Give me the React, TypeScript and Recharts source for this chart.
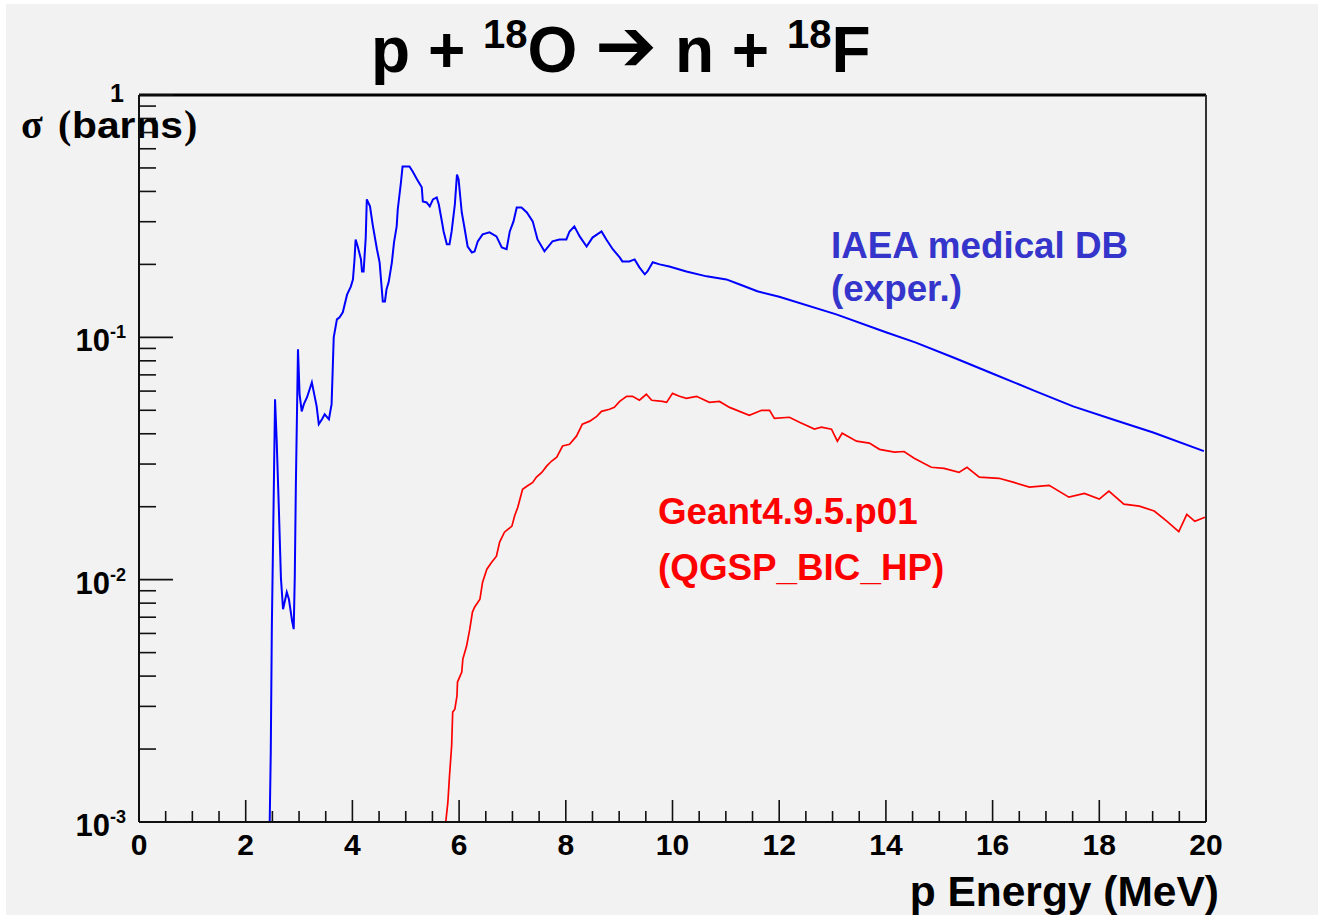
import React from 'react';
import { LineChart, Line, XAxis, YAxis, ReferenceLine } from 'recharts';

const IAEA_ENERGY = [2.45, 2.47, 2.49, 2.53, 2.55, 2.58, 2.62, 2.66, 2.70, 2.77, 2.81, 2.87, 2.90, 2.92, 2.94, 2.98, 3.01, 3.05, 3.09, 3.15, 3.24, 3.33, 3.37, 3.43, 3.48, 3.56, 3.61, 3.63, 3.65, 3.71, 3.76, 3.82, 3.90, 3.97, 4.01, 4.04, 4.06, 4.10, 4.16, 4.18, 4.21, 4.25, 4.27, 4.33, 4.38, 4.46, 4.51, 4.57, 4.61, 4.64, 4.68, 4.74, 4.78, 4.83, 4.85, 4.91, 4.94, 5.02, 5.07, 5.13, 5.21, 5.30, 5.32, 5.39, 5.45, 5.51, 5.58, 5.62, 5.67, 5.71, 5.77, 5.82, 5.86, 5.92, 5.96, 5.99, 6.05, 6.10, 6.16, 6.24, 6.29, 6.35, 6.44, 6.57, 6.70, 6.80, 6.89, 6.95, 7.02, 7.08, 7.17, 7.27, 7.38, 7.47, 7.60, 7.75, 7.88, 8.01, 8.07, 8.16, 8.26, 8.39, 8.50, 8.67, 8.76, 8.88, 9.01, 9.06, 9.19, 9.29, 9.38, 9.48, 9.53, 9.63, 9.76, 9.94, 10.26, 10.64, 11.01, 11.25, 11.59, 12.0, 13.07, 14.0, 14.55, 15.3, 16.03, 16.8, 17.51, 18.3, 19.01, 19.96];
const IAEA_SIGMA = [0.001, 0.00195, 0.00637, 0.0265, 0.0555, 0.038, 0.0201, 0.0102, 0.00755, 0.00888, 0.0083, 0.00675, 0.00625, 0.0103, 0.0243, 0.0893, 0.0582, 0.0495, 0.053, 0.0566, 0.0652, 0.0519, 0.0438, 0.0459, 0.0481, 0.0459, 0.053, 0.0724, 0.1, 0.1186, 0.121, 0.1268, 0.150, 0.162, 0.173, 0.210, 0.2535, 0.237, 0.210, 0.187, 0.187, 0.258, 0.371, 0.347, 0.292, 0.231, 0.204, 0.1406, 0.1406, 0.158, 0.169, 0.204, 0.2465, 0.287, 0.337, 0.4356, 0.507, 0.507, 0.507, 0.4836, 0.449, 0.416, 0.364, 0.3603, 0.347, 0.371, 0.378, 0.353, 0.307, 0.2735, 0.242, 0.242, 0.2735, 0.353, 0.470, 0.449, 0.3275, 0.284, 0.237, 0.224, 0.226, 0.249, 0.266, 0.271, 0.261, 0.235, 0.231, 0.2735, 0.301, 0.3436, 0.3436, 0.3275, 0.301, 0.2535, 0.2265, 0.249, 0.2535, 0.2535, 0.2735, 0.287, 0.261, 0.237, 0.258, 0.2735, 0.2535, 0.231, 0.2138, 0.2058, 0.2058, 0.2097, 0.1944, 0.182, 0.187, 0.204, 0.200, 0.196, 0.187, 0.1785, 0.1734, 0.1656, 0.1549, 0.147, 0.1244, 0.105, 0.0953, 0.082, 0.0704, 0.060, 0.0519, 0.0455, 0.0405, 0.0339];

const G4_ENERGY = [5.75, 5.79, 5.82, 5.86, 5.88, 5.92, 5.96, 5.97, 6.05, 6.07, 6.14, 6.20, 6.25, 6.29, 6.39, 6.44, 6.52, 6.61, 6.70, 6.76, 6.85, 6.99, 7.04, 7.10, 7.19, 7.27, 7.38, 7.45, 7.55, 7.64, 7.73, 7.83, 7.94, 8.07, 8.20, 8.31, 8.45, 8.58, 8.67, 8.82, 8.91, 9.01, 9.14, 9.25, 9.38, 9.51, 9.61, 9.81, 9.89, 10.0, 10.13, 10.26, 10.45, 10.69, 10.88, 11.07, 11.44, 11.67, 11.82, 11.91, 12.19, 12.38, 12.66, 12.79, 12.98, 13.09, 13.18, 13.45, 13.69, 13.88, 14.16, 14.34, 14.53, 14.85, 15.09, 15.37, 15.52, 15.75, 16.12, 16.40, 16.69, 17.06, 17.43, 17.72, 18.0, 18.18, 18.46, 18.75, 19.03, 19.27, 19.49, 19.64, 19.79, 19.98];
const G4_SIGMA = [0.001, 0.00121, 0.00155, 0.00206, 0.00284, 0.00292, 0.00331, 0.00378, 0.00416, 0.0047, 0.00532, 0.00625, 0.00735, 0.0077, 0.0083, 0.00977, 0.01105, 0.0118, 0.0125, 0.0143, 0.0157, 0.01663, 0.0183, 0.0199, 0.0236, 0.0243, 0.0252, 0.0265, 0.0277, 0.0294, 0.0308, 0.032, 0.0356, 0.0362, 0.0391, 0.0438, 0.0451, 0.0472, 0.0495, 0.0505, 0.0514, 0.0544, 0.0571, 0.0571, 0.055, 0.0582, 0.055, 0.0544, 0.0539, 0.0587, 0.0571, 0.056, 0.0571, 0.0539, 0.0544, 0.0514, 0.0477, 0.050, 0.050, 0.0463, 0.0468, 0.0446, 0.0418, 0.0426, 0.0418, 0.0373, 0.0402, 0.0373, 0.0366, 0.0345, 0.0336, 0.0338, 0.0317, 0.0291, 0.0288, 0.0277, 0.0291, 0.0265, 0.0262, 0.0252, 0.0241, 0.0245, 0.0219, 0.0227, 0.0215, 0.0232, 0.0205, 0.0201, 0.0192, 0.0174, 0.0158, 0.0186, 0.0174, 0.0181];

const X_TICKS = [0, 0.5, 1, 1.5, 2, 2.5, 3, 3.5, 4, 4.5, 5, 5.5, 6, 6.5, 7, 7.5, 8, 8.5, 9, 9.5, 10, 10.5, 11, 11.5, 12, 12.5, 13, 13.5, 14, 14.5, 15, 15.5, 16, 16.5, 17, 17.5, 18, 18.5, 19, 19.5, 20];
const X_LABELS = [0, 2, 4, 6, 8, 10, 12, 14, 16, 18, 20];
const Y_TICKS = [0.001, 0.002, 0.003, 0.004, 0.005, 0.006, 0.007, 0.008, 0.009, 0.01, 0.02, 0.03, 0.04, 0.05, 0.06, 0.07, 0.08, 0.09, 0.1, 0.2, 0.3, 0.4, 0.5, 0.6, 0.7, 0.8, 0.9, 1];
const Y_DECADES: Record<string, string> = { '0.001': '-3', '0.01': '-2', '0.1': '-1' };

const iaeaData = IAEA_ENERGY.map((e, i) => ({ e, s: IAEA_SIGMA[i] }));
const g4Data = G4_ENERGY.map((e, i) => ({ e, s: G4_SIGMA[i] }));

const FONT = '"Liberation Sans", Arial, Helvetica, sans-serif';
const SERIF = '"Liberation Serif", "Times New Roman", serif';

const XTick = (props: any) => {
  const { x, y, payload } = props;
  const v = payload.value;
  const major = X_LABELS.includes(v);
  return (
    <g>
      <line x1={x} x2={x} y1={y} y2={y - (major ? 22 : 11)} stroke="#111" strokeWidth={1.6} />
      {major && (
        <text x={x} y={y + 33} textAnchor="middle" fontFamily={FONT} fontWeight="bold" fontSize={30} fill="#000">
          {String(v)}
        </text>
      )}
    </g>
  );
};

const YTick = (props: any) => {
  const { x, y, payload } = props;
  const v = payload.value;
  const key = String(v);
  const isDecade = key in Y_DECADES || v === 1;
  return (
    <g>
      <line x1={x} x2={x + (isDecade ? 34 : 17)} y1={y} y2={y} stroke="#111" strokeWidth={1.6} />
      {v === 1 && (
        <text x={124} y={y + 7} textAnchor="end" fontFamily={FONT} fontWeight="bold" fontSize={25} fill="#000">1</text>
      )}
      {key in Y_DECADES && (
        <text x={126} y={y + 14} textAnchor="end" fontFamily={FONT} fontWeight="bold" fill="#000">
          <tspan fontSize={31}>10</tspan>
          <tspan fontSize={18} dy={-13}>{Y_DECADES[key]}</tspan>
        </text>
      )}
    </g>
  );
};

export default function App() {
  return (
    <div style={{ position: 'absolute', left: 0, top: 0, width: 1318, height: 915, background: '#ffffff', overflow: 'hidden' }}>
      <div style={{ position: 'absolute', left: 6, top: 4, width: 1312, height: 911, background: '#f2f2f2' }} />
      <svg width={1318} height={915} style={{ position: 'absolute', left: 0, top: 0 }}>
        <text x={371} y={72} fontFamily={FONT} fontWeight="bold" fill="#000">
          <tspan fontSize={64}>p + </tspan>
          <tspan fontSize={40} dy={-24}>18</tspan>
          <tspan fontSize={64} dy={24}>O </tspan>
          <tspan fontSize={74} fontFamily='"DejaVu Sans", sans-serif' dy={-1}>➔</tspan>
          <tspan fontSize={64} dy={1}> n + </tspan>
          <tspan fontSize={40} dy={-24}>18</tspan>
          <tspan fontSize={64} dy={24}>F</tspan>
        </text>
        <text x={21} y={138} fontFamily={SERIF} fontWeight="bold" fontSize={40} fill="#000">σ</text>
        <text x={58} y={138} fontFamily={SERIF} fontWeight="bold" fontSize={40} fill="#000">(</text>
        <text x={72} y={138} fontFamily={FONT} fontWeight="bold" fontSize={37} fill="#000" textLength={111} lengthAdjust="spacingAndGlyphs">barns</text>
        <text x={184} y={138} fontFamily={SERIF} fontWeight="bold" fontSize={40} fill="#000">)</text>
        <text x={1219} y={906} textAnchor="end" fontFamily={FONT} fontWeight="bold" fontSize={42.5} fill="#000">p Energy (MeV)</text>
        <text x={831} y={258} fontFamily={FONT} fontWeight="bold" fontSize={36.8} fill="#3535cc">IAEA medical DB</text>
        <text x={831} y={301} fontFamily={FONT} fontWeight="bold" fontSize={36.8} fill="#3535cc">(exper.)</text>
        <text x={658} y={524} fontFamily={FONT} fontWeight="bold" fontSize={36.8} fill="#ff0000">Geant4.9.5.p01</text>
        <text x={658} y={580} fontFamily={FONT} fontWeight="bold" fontSize={36.8} fill="#ff0000">(QGSP_BIC_HP)</text>
      </svg>
      <div style={{ position: 'absolute', left: 0, top: 0 }}>
        <LineChart width={1318} height={915} margin={{ top: 95, right: 112, bottom: 0, left: 0 }}>
          <XAxis
            dataKey="e"
            type="number"
            domain={[0, 20]}
            ticks={X_TICKS}
            interval={0}
            height={93}
            tickSize={0}
            tickMargin={0}
            tickLine={false}
            axisLine={{ stroke: '#111', strokeWidth: 2 }}
            tick={<XTick />}
            allowDataOverflow
          />
          <YAxis
            dataKey="s"
            type="number"
            scale="log"
            domain={[0.001, 1]}
            ticks={Y_TICKS}
            interval={0}
            width={139}
            tickSize={0}
            tickMargin={0}
            tickLine={false}
            axisLine={{ stroke: '#111', strokeWidth: 2 }}
            tick={<YTick />}
            allowDataOverflow
          />
          <ReferenceLine y={1} stroke="#000" strokeWidth={3} ifOverflow="visible" />
          <ReferenceLine x={20} stroke="#333" strokeWidth={2} ifOverflow="visible" />
          <Line data={iaeaData} dataKey="s" type="linear" stroke="#0000ff" strokeWidth={2} dot={false} isAnimationActive={false} />
          <Line data={g4Data} dataKey="s" type="linear" stroke="#ff0000" strokeWidth={1.7} dot={false} isAnimationActive={false} />
        </LineChart>
      </div>
    </div>
  );
}
